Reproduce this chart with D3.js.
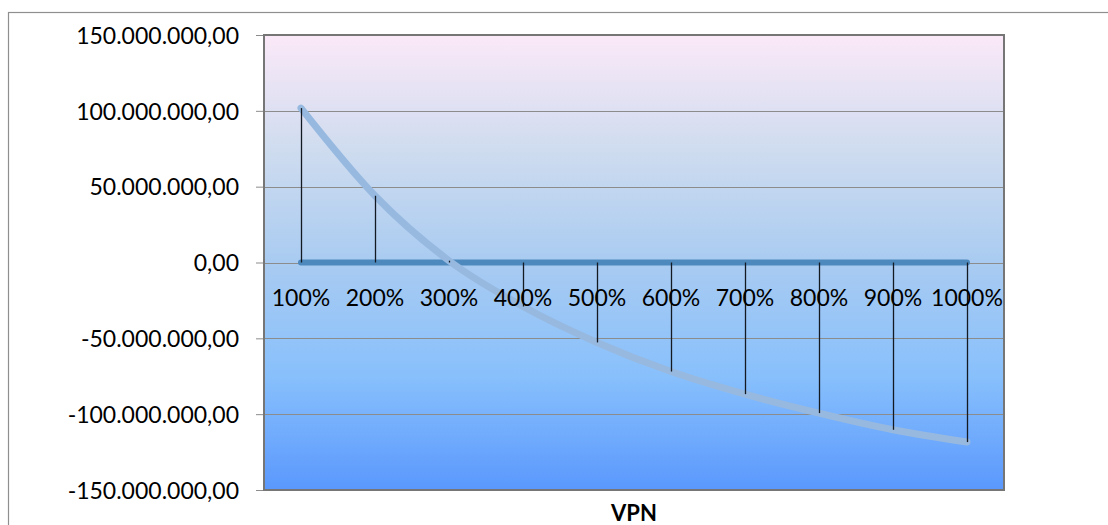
<!DOCTYPE html>
<html>
<head>
<meta charset="utf-8">
<script src="https://cdn.jsdelivr.net/npm/d3@7"></script>
<style>
  html, body { margin: 0; padding: 0; background: #ffffff; }
  svg { display: block; }
  text { font-family: Lato, "Open Sans", "DejaVu Sans", sans-serif; fill: #000; }
</style>
</head>
<body>
<svg id="chart" width="1108" height="525"></svg>
<script>
// Categories (rates) and the two series
const categories = ["100%", "200%", "300%", "400%", "500%", "600%", "700%", "800%", "900%", "1000%"];
const vpnValues = [101800000, 44000000, 1200000, -29000000, -52700000, -71900000, -86800000, -99300000, -110300000, -118400000];
const zeroValues = [0, 0, 0, 0, 0, 0, 0, 0, 0, 0];
const yTicks = [150000000, 100000000, 50000000, 0, -50000000, -100000000, -150000000];
const axisTitle = "VPN";

const svg = d3.select("#chart");
const W = 1108, H = 525;
const plot = { left: 264, top: 35, right: 1004, bottom: 490 };

const locale = d3.formatLocale({ decimal: ",", thousands: ".", grouping: [3], currency: ["", ""], minus: "-" });
const fmt = locale.format(",.2f");

const x = d3.scalePoint().domain(categories).range([plot.left, plot.right]).padding(0.5);
const y = d3.scaleLinear().domain([-150000000, 150000000]).range([plot.bottom, plot.top]);

// Chart area border
svg.append("rect")
  .attr("x", 8.5).attr("y", 12.5).attr("width", 1300).attr("height", 700)
  .attr("fill", "#ffffff").attr("stroke", "#8f8f8f").attr("stroke-width", 1.2);

// Plot background gradient
const defs = svg.append("defs");
const grad = defs.append("linearGradient").attr("id", "bg")
  .attr("x1", 0).attr("y1", 0).attr("x2", 0).attr("y2", 1);
[
  [0, "#fbe9f8"],
  [0.25, "#cfdcef"],
  [0.5, "#a9cbf1"],
  [0.75, "#88c0fc"],
  [1, "#5a98fd"]
].forEach(([o, c]) => grad.append("stop").attr("offset", o).attr("stop-color", c));

svg.append("rect")
  .attr("x", plot.left).attr("y", plot.top)
  .attr("width", plot.right - plot.left).attr("height", plot.bottom - plot.top)
  .attr("fill", "url(#bg)");

// Value axis with gridlines
const yAxis = d3.axisLeft(y).tickValues(yTicks).tickFormat(fmt).tickSizeOuter(0).tickSizeInner(8).tickPadding(17);
const gy = svg.append("g").attr("transform", `translate(${plot.left},0)`).call(yAxis);
gy.select(".domain").remove();
gy.selectAll(".tick line").attr("stroke", "#8c8c8c");
gy.selectAll(".tick text").style("font-size", "23px").attr("dy", "0.36em");

svg.append("g").selectAll("line").data(yTicks).join("line")
  .attr("x1", plot.left).attr("x2", plot.right)
  .attr("y1", d => Math.round(y(d)) + 0.5).attr("y2", d => Math.round(y(d)) + 0.5)
  .attr("stroke", "#8c8c8c").attr("stroke-width", 1.2);

// Plot border
svg.append("rect")
  .attr("x", plot.left).attr("y", plot.top)
  .attr("width", plot.right - plot.left).attr("height", plot.bottom - plot.top)
  .attr("fill", "none").attr("stroke", "#767676").attr("stroke-width", 2);

// Zero series
const line = d3.line().x((d, i) => x(categories[i])).y(d => y(d));
svg.append("path").datum(zeroValues)
  .attr("d", line)
  .attr("fill", "none").attr("stroke", "#4d89bd").attr("stroke-width", 6)
  .attr("stroke-linecap", "round");

// VPN curve (smoothed)
const smooth = d3.line().x((d, i) => x(categories[i])).y(d => y(d)).curve(d3.curveMonotoneX);
svg.append("path").datum(vpnValues)
  .attr("d", smooth)
  .attr("fill", "none").attr("stroke", "#97b9e0").attr("stroke-width", 7)
  .attr("stroke-linecap", "round").attr("stroke-linejoin", "round");

// Drop lines from each point to zero
svg.append("g").selectAll("line").data(vpnValues).join("line")
  .attr("x1", (d, i) => Math.round(x(categories[i])) + 0.5)
  .attr("x2", (d, i) => Math.round(x(categories[i])) + 0.5)
  .attr("y1", d => y(d)).attr("y2", y(0))
  .attr("stroke", "#141a22").attr("stroke-width", 1.3);

// Category labels
svg.append("g").selectAll("text").data(categories).join("text")
  .attr("x", d => x(d)).attr("y", 306)
  .attr("text-anchor", "middle")
  .style("font-size", "23px")
  .text(d => d);

// Axis title
svg.append("text")
  .attr("x", (plot.left + plot.right) / 2).attr("y", 521)
  .attr("text-anchor", "middle")
  .style("font-size", "22px").style("font-weight", "bold")
  .text(axisTitle);
</script>
</body>
</html>
